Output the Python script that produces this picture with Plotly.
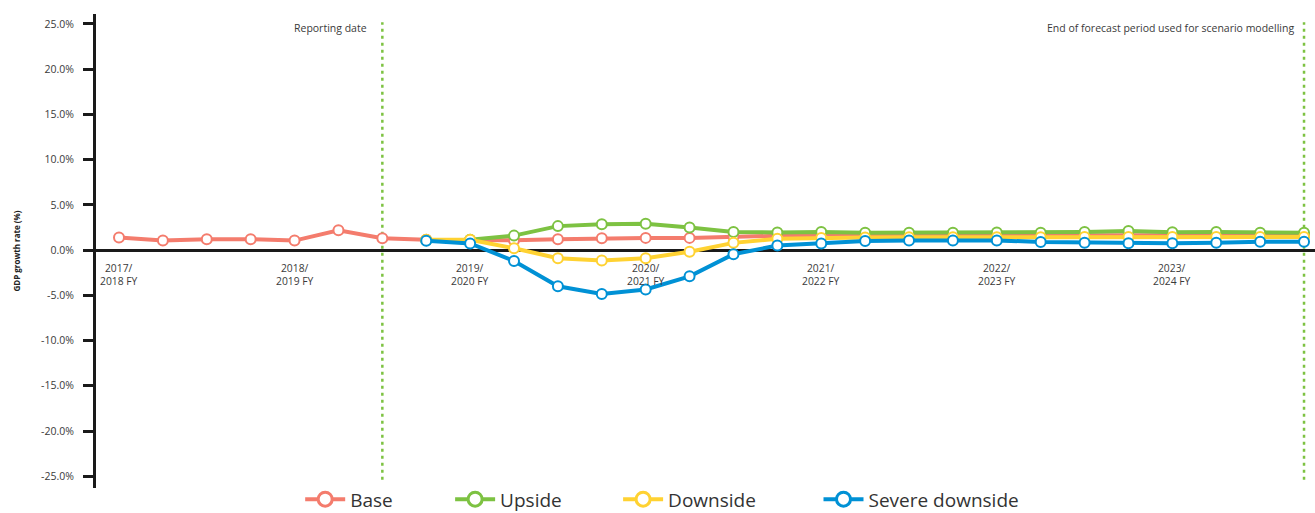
import plotly.graph_objects as go

# Quarterly periods, index 0 = first quarter of 2017/2018 FY
periods = list(range(28))

base = [1.4, 1.05, 1.2, 1.2, 1.05, 2.2, 1.3, 1.14, 1.12, 1.1, 1.2, 1.3, 1.35, 1.35,
        1.5, 1.58, 1.6, 1.62, 1.62, 1.62, 1.62, 1.62, 1.65, 1.68, 1.65, 1.62, 1.62, 1.62]
upside = [None] * 7 + [1.1, 1.14, 1.6, 2.65, 2.85, 2.9, 2.5, 2.0, 1.95, 2.0, 1.93, 1.93,
                       1.93, 1.95, 1.93, 2.0, 2.1, 1.97, 2.0, 1.92, 1.92]
downside = [None] * 7 + [1.15, 1.14, 0.2, -0.9, -1.15, -0.9, -0.18, 0.8, 1.25, 1.35, 1.4,
                         1.42, 1.42, 1.42, 1.42, 1.44, 1.44, 1.44, 1.44, 1.44, 1.44]
severe = [None] * 7 + [1.03, 0.74, -1.2, -4.0, -4.85, -4.35, -2.9, -0.45, 0.5, 0.72, 1.0,
                       1.07, 1.07, 1.07, 0.9, 0.82, 0.75, 0.75, 0.8, 0.92, 0.92]

series_names = ["Base", "Upside", "Downside", "Severe downside"]
series_values = [base, upside, downside, severe]
series_colors = ["#F47C6D", "#7DC242", "#FFD232", "#0091D5"]

year_tick_idx = [0, 4, 8, 12, 16, 20, 24]
year_tick_text = ["2017/<br>2018 FY", "2018/<br>2019 FY", "2019/<br>2020 FY", "2020/<br>2021 FY",
                  "2021/<br>2022 FY", "2022/<br>2023 FY", "2023/<br>2024 FY"]

y_ticks = [-25, -20, -15, -10, -5, 0, 5, 10, 15, 20, 25]

reporting_idx = 6
forecast_end_idx = 27

label_font = "Open Sans"
grey = "#3a3a3a"

# one legend box per series so the entries can be spread out along the bottom
legend_ids = ["legend", "legend2", "legend3", "legend4"]
legend_x = [0.1675, 0.2905, 0.4283, 0.5927]

fig = go.Figure()
for name, vals, col in zip(series_names, series_values, series_colors):
    fig.add_trace(go.Scatter(
        x=periods, y=vals, name=name, mode="lines+markers",
        line=dict(color=col, width=4),
        marker=dict(size=10, color="white", line=dict(color=col, width=2)),
        showlegend=False,
    ))

# Legend entries use a larger ring than the plotted points
for name, col, lid in zip(series_names, series_colors, legend_ids):
    fig.add_trace(go.Scatter(
        x=[None], y=[None], name=name, mode="lines+markers",
        line=dict(color=col, width=4),
        marker=dict(size=14, color="white", line=dict(color=col, width=3)),
        legend=lid, showlegend=True,
    ))

# Dotted marker lines for reporting date and end of forecast period
for idx in (reporting_idx, forecast_end_idx):
    fig.add_shape(type="line", xref="x", yref="y", x0=idx, x1=idx, y0=-25.4, y1=25.2,
                  line=dict(color="#7DC242", width=2.5, dash="3px,4px"), layer="below")

fig.add_annotation(x=reporting_idx, y=24.6, xref="x", yref="y", text="Reporting date",
                   showarrow=False, xanchor="right", xshift=-13,
                   font=dict(family=label_font, size=10.5, color=grey))
fig.add_annotation(x=forecast_end_idx, y=24.6, xref="x", yref="y",
                   text="End of forecast period used for scenario modelling",
                   showarrow=False, xanchor="right", xshift=-8,
                   font=dict(family=label_font, size=10.5, color=grey))

# Year labels hanging under the zero line
for idx, txt in zip(year_tick_idx, year_tick_text):
    fig.add_annotation(x=idx, y=0, xref="x", yref="y", text=txt, showarrow=False,
                       yanchor="top", yshift=-9, align="center",
                       font=dict(family=label_font, size=10.3, color=grey))

fig.add_annotation(x=-0.066, y=0.5, xref="paper", yref="paper", text="<b>GDP growth rate (%)</b>",
                   textangle=-90, showarrow=False, xanchor="center", yanchor="middle",
                   font=dict(family=label_font, size=8, color="#222"))

legend_style = dict(orientation="h", xanchor="left", y=-0.024, yanchor="middle",
                    font=dict(family="Open Sans", size=19, color="#333"),
                    itemwidth=40, bgcolor="rgba(0,0,0,0)")

fig.update_layout(
    width=1315, height=513,
    margin=dict(l=96, r=0, t=14, b=25, autoexpand=False),
    paper_bgcolor="white", plot_bgcolor="white",
    showlegend=True,
    xaxis=dict(range=[-0.524, 27.25], showgrid=False, zeroline=False, showticklabels=False,
               ticks="", showline=False),
    yaxis=dict(range=[-26.3, 26.1], tickvals=y_ticks,
               ticktext=[f"{v:.1f}%" for v in y_ticks],
               showgrid=False, zeroline=True, zerolinecolor="#1a1a1a", zerolinewidth=3,
               showline=True, linecolor="#1a1a1a", linewidth=3,
               ticks="outside", ticklen=10, tickwidth=3, tickcolor="#1a1a1a",
               ticklabelstandoff=7,
               tickfont=dict(family=label_font, size=10.5, color=grey)),
)
for lid, lx in zip(legend_ids, legend_x):
    fig.update_layout({lid: dict(legend_style, x=lx)})

fig.write_html("out.html")
